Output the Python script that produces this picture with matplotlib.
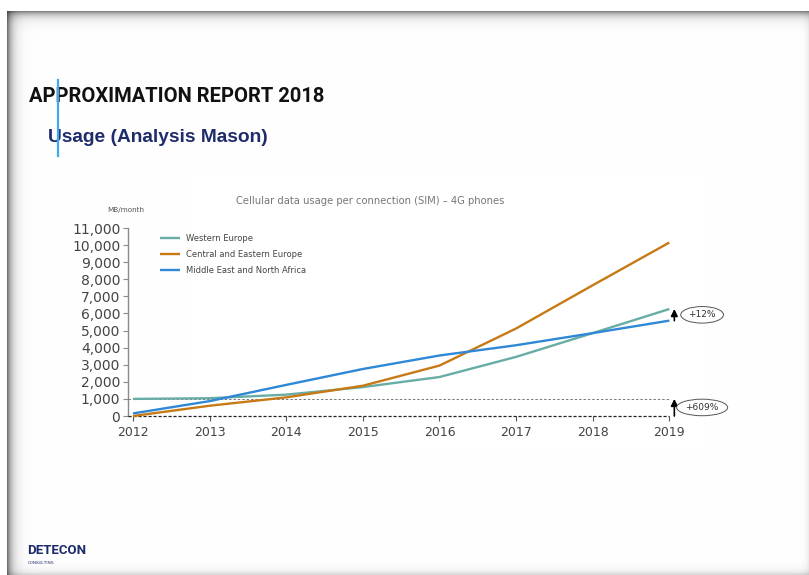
import numpy as np
import matplotlib
matplotlib.use("Agg")
import matplotlib.pyplot as plt

# ---------------- data ----------------
years = [2012, 2013, 2014, 2015, 2016, 2017, 2018, 2019]
western_europe = [1000, 1040, 1250, 1690, 2280, 3460, 4850, 6260]
central_eastern_europe = [0, 600, 1090, 1770, 2950, 5120, 7650, 10150]
mena = [150, 870, 1820, 2750, 3540, 4140, 4850, 5580]
series_names = ["Western Europe", "Central and Eastern Europe", "Middle East and North Africa"]
series_colors = ["#68ADA5", "#C77A14", "#2F88D5"]
y_ticks = list(range(0, 11001, 1000))
y_tick_labels = ["0"] + [f"{v:,}" for v in y_ticks[1:]]
growth_labels = ["+12%", "+609%"]

W, H = 809, 575
fig = plt.figure(figsize=(W / 100, H / 100), dpi=100)

# ---------------- slide background with shadow ----------------
bg = fig.add_axes([0, 0, 1, 1], zorder=0)
yy, xx = np.mgrid[0:H, 0:W].astype(float)
inside = (xx >= 7) & (yy >= 11)
top = np.where(inside, 0.48 * np.exp(-(yy - 11) / 4.5), 0.0)
left = np.where(inside, 0.55 * np.exp(-(xx - 7) / 5.0), 0.0)
bottom = np.where(inside, 0.16 * np.exp(-(H - 1 - yy) / 3.5), 0.0)
right = np.where(inside, 0.07 * np.exp(-(W - 1 - xx) / 3.0), 0.0)
val = (1 - top) * (1 - left) * (1 - bottom) * (1 - right)
img = np.dstack([val, val, val])
bg.imshow(img, extent=[0, W, H, 0], aspect="auto", interpolation="bilinear")
bg.set_xlim(0, W)
bg.set_ylim(H, 0)
bg.axis("off")

# ---------------- slide texts ----------------
narrow = ["Roboto", "DejaVu Sans"]
fig.text(29 / W, 1 - 97 / H, "APPROXIMATION REPORT 2018", fontsize=14.5,
         fontweight="bold", family=narrow,
         color="#111111", va="center", ha="left", zorder=2)
fig.text(48 / W, 1 - 137 / H, "Usage (Analysis Mason)", fontsize=13.8,
         fontweight="bold", family=["Liberation Sans", "DejaVu Sans"],
         color="#1F2C6B", va="center", ha="left", zorder=2)
fig.add_artist(plt.Line2D([57.5 / W, 57.5 / W], [1 - 80 / H, 1 - 156 / H],
                          color="#3FA9F0", lw=1.6, zorder=3))
fig.text(27 / W, 1 - 551 / H, "DETECON", fontsize=9.5, fontweight="bold",
         family=narrow, color="#1F2C6B",
         va="center", ha="left", zorder=2)
fig.text(27.5 / W, 1 - 563.5 / H, "CONSULTING", fontsize=3.2,
         family=narrow, color="#1F2C6B",
         va="center", ha="left", zorder=2)

# chart title and unit
fig.text(370 / W, 1 - 201 / H, "Cellular data usage per connection (SIM) \u2013 4G phones",
         fontsize=7.2, color="#777777", ha="center", va="center", zorder=2)
fig.text(107 / W, 1 - 210 / H, "MB/month", fontsize=5.2, color="#555555",
         ha="left", va="center", zorder=2)

# ---------------- chart ----------------
ax_l, ax_r, ax_t, ax_b = 128, 677, 228, 416
ax = fig.add_axes([ax_l / W, 1 - ax_b / H, (ax_r - ax_l) / W, (ax_b - ax_t) / H], zorder=1)
ax.patch.set_alpha(0)
x0 = years[0] - 5 / 76.6
x1 = years[-1] + 0.1
ax.set_xlim(x0, x1)
ax.set_ylim(0, 11000)

for name, vals, col in zip(series_names,
                           [western_europe, central_eastern_europe, mena],
                           series_colors):
    ax.plot(years, vals, color=col, lw=1.7, label=name, clip_on=False,
            solid_capstyle="butt", zorder=4)

xmax_frac = (years[-1] - x0) / (x1 - x0)
ax.axhline(0, xmin=0, xmax=xmax_frac, color="#222222", lw=0.9,
           ls=(0, (2.5, 1.5)), clip_on=False, zorder=3)
ax.axhline(western_europe[0], xmin=0, xmax=xmax_frac, color="#777777", lw=0.7,
           ls=(0, (2.5, 2)), clip_on=False, zorder=3)

for s in ["top", "right", "bottom"]:
    ax.spines[s].set_visible(False)
ax.spines["left"].set_color("#8a8a8a")
ax.spines["left"].set_linewidth(1.0)

ax.set_yticks(y_ticks)
ax.set_yticklabels(y_tick_labels)
ax.set_xticks(years)
ax.set_xticklabels([str(y) for y in years])
ax.tick_params(axis="y", length=3.5, width=0.8, color="#8a8a8a", pad=2,
               labelsize=10, labelcolor="#444444")
ax.tick_params(axis="x", length=3.5, width=0.8, color="#555555", pad=4,
               labelsize=9, labelcolor="#444444")

leg = ax.legend(loc="upper left", bbox_to_anchor=(160 / W, 1 - 234 / H),
                bbox_transform=fig.transFigure, frameon=False, fontsize=6,
                handlelength=2.4, handletextpad=0.7, labelspacing=0.85,
                borderpad=0, borderaxespad=0)
for t in leg.get_texts():
    t.set_color("#444444")

# growth annotations
ax_x_arrow = years[-1] + 5 / 76.6
for lo, hi, lab in [(mena[-1], western_europe[-1], growth_labels[0]),
                    (central_eastern_europe[0], western_europe[0], growth_labels[1])]:
    ax.annotate("", xy=(ax_x_arrow, hi), xytext=(ax_x_arrow, lo),
                arrowprops=dict(arrowstyle="-|>,head_length=0.4,head_width=0.2",
                                color="black", lw=1.2, shrinkA=0, shrinkB=0),
                annotation_clip=False, zorder=5)
    ax.annotate(lab, xy=(ax_x_arrow, (lo + hi) / 2), xytext=(20, 0),
                textcoords="offset points", ha="center", va="center",
                fontsize=6.5, color="#333333", annotation_clip=False,
                bbox=dict(boxstyle="ellipse,pad=0.15", fc="white", ec="#555555", lw=0.7),
                zorder=5)

fig.savefig("out.png", dpi=100)
